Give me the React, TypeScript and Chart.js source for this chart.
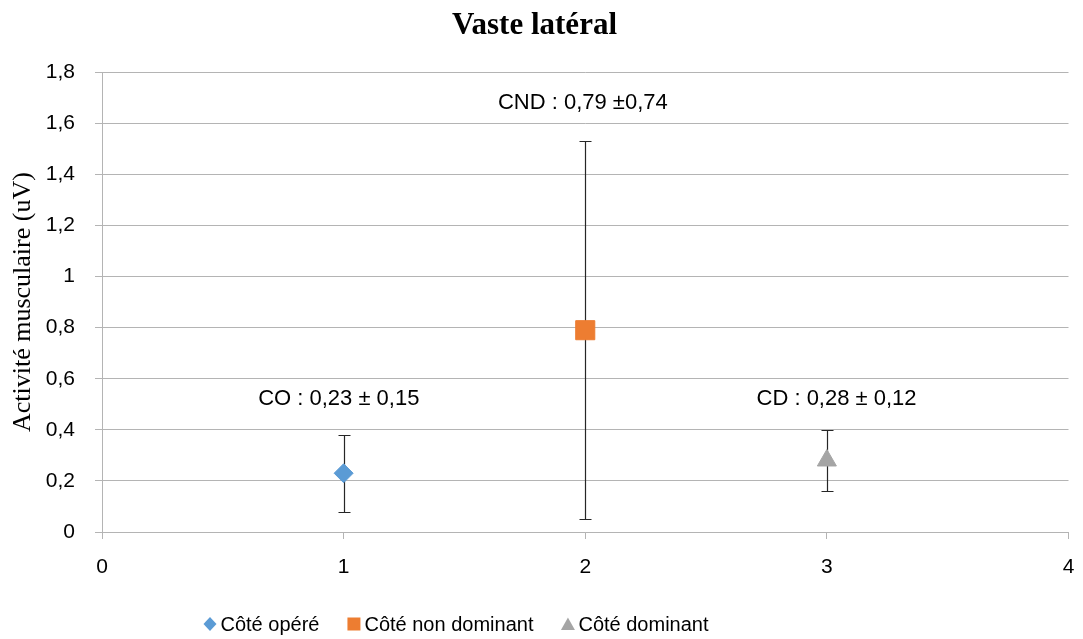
import React, { useEffect, useRef } from 'react';
import { Chart, registerables } from 'chart.js';

Chart.register(...registerables);

const chartTitle = 'Vaste latéral';
const yAxisTitle = 'Activité musculaire (uV)';
const seriesNames = ['Côté opéré', 'Côté non dominant', 'Côté dominant'];
const xPositions = [1, 2, 3];
const meanValues = [0.23, 0.79, 0.28];
const sdValues = [0.15, 0.74, 0.12];
const seriesColors = ['#5B9BD5', '#ED7D31', '#A5A5A5'];
const pointStyles = ['rectRot', 'rect', 'triangle'];
const pointRadii = [9.5, 13.5, 11];
const annotationTexts = ['CO : 0,23 ± 0,15', 'CND : 0,79 ±0,74', 'CD : 0,28 ± 0,12'];
const annotationX = [0.98, 1.99, 3.04];
const annotationY = [0.52, 1.68, 0.52];
const yTickLabels = ['0', '0,2', '0,4', '0,6', '0,8', '1', '1,2', '1,4', '1,6', '1,8'];
const xTickLabels = ['0', '1', '2', '3', '4'];

const gridColor = '#B4B4B4';
const sansFont = '"Liberation Sans", Arial, sans-serif';
const serifFont = '"Liberation Serif", "Times New Roman", serif';

const errorBarPlugin = {
  id: 'errorBars',
  beforeDatasetsDraw(chart: any) {
    const { ctx, scales } = chart;
    const x = scales.x;
    const y = scales.y;
    ctx.save();
    ctx.strokeStyle = '#262626';
    ctx.lineWidth = 1.2;
    meanValues.forEach((m, i) => {
      const px = Math.round(x.getPixelForValue(xPositions[i])) + 0.5;
      const top = Math.round(y.getPixelForValue(m + sdValues[i])) + 0.5;
      const bot = Math.round(y.getPixelForValue(m - sdValues[i])) + 0.5;
      ctx.beginPath();
      ctx.moveTo(px, top);
      ctx.lineTo(px, bot);
      ctx.moveTo(px - 6, top);
      ctx.lineTo(px + 6, top);
      ctx.moveTo(px - 6, bot);
      ctx.lineTo(px + 6, bot);
      ctx.stroke();
    });
    ctx.restore();
  },
};

const annotationPlugin = {
  id: 'valueAnnotations',
  afterDraw(chart: any) {
    const { ctx, scales } = chart;
    ctx.save();
    ctx.font = `22px ${sansFont}`;
    ctx.fillStyle = '#000000';
    ctx.textAlign = 'center';
    ctx.textBaseline = 'middle';
    annotationTexts.forEach((t, i) => {
      ctx.fillText(t, scales.x.getPixelForValue(annotationX[i]), scales.y.getPixelForValue(annotationY[i]));
    });
    ctx.restore();
  },
};

function drawMarker(ctx: CanvasRenderingContext2D, style: string, cx: number, cy: number) {
  ctx.beginPath();
  if (style === 'rectRot') {
    ctx.moveTo(cx, cy - 7);
    ctx.lineTo(cx + 6.5, cy);
    ctx.lineTo(cx, cy + 7);
    ctx.lineTo(cx - 6.5, cy);
  } else if (style === 'rect') {
    ctx.rect(cx - 6.5, cy - 6.5, 13, 13);
  } else {
    ctx.moveTo(cx, cy - 6.5);
    ctx.lineTo(cx + 7, cy + 6);
    ctx.lineTo(cx - 7, cy + 6);
  }
  ctx.closePath();
  ctx.fill();
}

const legendPlugin = {
  id: 'bottomLegend',
  afterDraw(chart: any) {
    const { ctx } = chart;
    ctx.save();
    ctx.font = `20px ${sansFont}`;
    ctx.textBaseline = 'middle';
    ctx.textAlign = 'left';
    const markerW = 13;
    const markerGap = 4;
    const itemGap = 28;
    const widths = seriesNames.map((n) => ctx.measureText(n).width);
    const total = widths.reduce((a, w) => a + markerW + markerGap + w, 0) + itemGap * (seriesNames.length - 1);
    const rowCenterX = 456;
    const rowCenterY = 624;
    let cx = rowCenterX - total / 2;
    seriesNames.forEach((n, i) => {
      ctx.fillStyle = seriesColors[i];
      drawMarker(ctx, pointStyles[i], cx + markerW / 2, rowCenterY);
      ctx.fillStyle = '#000000';
      ctx.fillText(n, cx + markerW + markerGap, rowCenterY + 1);
      cx += markerW + markerGap + widths[i] + itemGap;
    });
    ctx.restore();
  },
};

export default function App() {
  const canvasRef = useRef<HTMLCanvasElement | null>(null);

  useEffect(() => {
    if (!canvasRef.current) return;
    const datasets = seriesNames.map((name, i) => ({
      label: name,
      data: [{ x: xPositions[i], y: meanValues[i] }],
      pointStyle: pointStyles[i],
      pointRadius: pointRadii[i],
      pointHoverRadius: pointRadii[i],
      backgroundColor: seriesColors[i],
      borderColor: seriesColors[i],
      borderWidth: 1,
      showLine: false,
    }));

    const chart = new Chart(canvasRef.current, {
      type: 'scatter',
      data: { datasets } as any,
      plugins: [errorBarPlugin, annotationPlugin, legendPlugin],
      options: {
        animation: false,
        responsive: false,
        layout: { padding: { left: 0, right: 14, top: 0, bottom: 0 } },
        plugins: {
          legend: { display: false },
          tooltip: { enabled: false },
          title: {
            display: true,
            text: chartTitle,
            color: '#000000',
            font: { family: serifFont, size: 31, weight: 'bold' },
            padding: { top: 7, bottom: 28 },
          },
        },
        scales: {
          x: {
            type: 'linear',
            min: 0,
            max: 4,
            afterFit: (scale: any) => {
              scale.height = 107;
              scale.paddingRight = 0;
              scale.paddingLeft = 0;
            },
            ticks: {
              stepSize: 1,
              color: '#000000',
              font: { family: sansFont, size: 21 },
              padding: 16,
              callback: (_v: any, i: number) => xTickLabels[i],
            },
            grid: {
              display: true,
              drawOnChartArea: false,
              drawTicks: true,
              tickLength: 7,
              color: gridColor,
            },
            border: { display: true, color: gridColor },
          },
          y: {
            type: 'linear',
            min: 0,
            max: 1.8,
            afterFit: (scale: any) => {
              scale.width = 102;
            },
            ticks: {
              stepSize: 0.2,
              color: '#000000',
              font: { family: sansFont, size: 21 },
              padding: 20,
              callback: (_v: any, i: number) => yTickLabels[i],
            },
            grid: {
              color: gridColor,
              tickLength: 7,
            },
            border: { display: true, color: gridColor },
            title: {
              display: true,
              text: yAxisTitle,
              color: '#000000',
              font: { family: serifFont, size: 26 },
              padding: { top: 8, bottom: 0 },
            },
          },
        },
      } as any,
    });
    return () => chart.destroy();
  }, []);

  return (
    <div style={{ position: 'absolute', left: 0, top: 0, width: 1083, height: 639, background: '#ffffff' }}>
      <canvas ref={canvasRef} width={1083} height={639} />
    </div>
  );
}
